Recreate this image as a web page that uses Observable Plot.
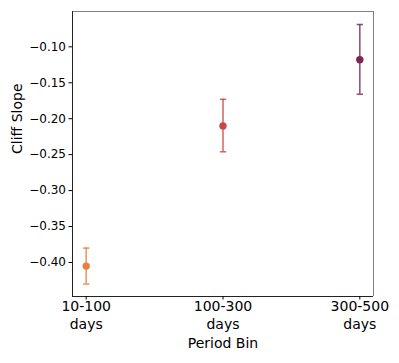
<!DOCTYPE html>
<html>
<head>
<meta charset="utf-8">
<script src="https://cdn.jsdelivr.net/npm/d3@7"></script>
<script src="https://cdn.jsdelivr.net/npm/@observablehq/plot@0.6"></script>
<style>
  html, body { margin: 0; padding: 0; background: #fff; }
  svg { display: block; }
  #chart svg, #chart svg text { font-family: "DejaVu Sans", sans-serif !important; }
</style>
</head>
<body>
<div id="chart"></div>
<script>
const bins = ["10-100", "100-300", "300-500"];
const binUnit = ["days", "days", "days"];
const slope = [-0.405, -0.210, -0.118];
const errLow = [-0.430, -0.246, -0.166];
const errHigh = [-0.380, -0.173, -0.069];
const colors = ["#e6823c", "#c84848", "#7c2752"];
const yTicks = [-0.40, -0.35, -0.30, -0.25, -0.20, -0.15, -0.10];
const yDomain = [-0.4473, -0.0509];
const xDomain = [-0.1, 2.1];

const rows = bins.map((b, i) => ({i, bin: b, unit: binUnit[i], slope: slope[i], lo: errLow[i], hi: errHigh[i], color: colors[i]}));
const caps = rows.flatMap(r => [{i: r.i, y: r.lo, color: r.color}, {i: r.i, y: r.hi, color: r.color}]);

const capSymbol = {draw(ctx) { const r = 3.2; ctx.moveTo(-r, 0); ctx.lineTo(r, 0); }};
const fmt = d => d.toFixed(2).replace("-", "\u2212");

const chart = Plot.plot({
  width: 399,
  height: 363,
  marginLeft: 72,
  marginRight: 26,
  marginTop: 11,
  marginBottom: 67,
  style: {fontFamily: "DejaVu Sans", color: "#000", background: "#fff"},
  x: {domain: xDomain, axis: null},
  y: {domain: yDomain, axis: null},
  marks: [
    Plot.ruleX([xDomain[1]], {stroke: "#808080", strokeWidth: 1}),
    Plot.ruleY([yDomain[1]], {stroke: "#808080", strokeWidth: 1}),
    Plot.ruleX([xDomain[0]], {stroke: "#222", strokeWidth: 1}),
    Plot.ruleY([yDomain[0]], {stroke: "#222", strokeWidth: 1}),
    Plot.axisY({ticks: yTicks, tickFormat: fmt, fontSize: 12, tickSize: 3.5, tickPadding: 3, label: null}),
    Plot.axisX({ticks: [0, 1, 2], tickFormat: () => "", tickSize: 3.5, label: null}),
    Plot.text(rows, {x: "i", text: "bin", frameAnchor: "bottom", dy: 10, lineAnchor: "middle", fontSize: 14, fill: "#000"}),
    Plot.text(rows, {x: "i", text: "unit", frameAnchor: "bottom", dy: 28, lineAnchor: "middle", fontSize: 14, fill: "#000"}),
    Plot.text(["Cliff Slope"], {frameAnchor: "left", rotate: -90, dx: -55, fontSize: 14, fill: "#000"}),
    Plot.text(["Period Bin"], {frameAnchor: "bottom", dy: 47, lineAnchor: "middle", fontSize: 14, fill: "#000"}),
    Plot.ruleX(rows, {x: "i", y1: "lo", y2: "hi", stroke: "color", strokeWidth: 1.6, strokeOpacity: 0.8}),
    Plot.dot(caps, {x: "i", y: "y", symbol: capSymbol, stroke: "color", strokeWidth: 1.6, strokeOpacity: 0.8, fill: "none"}),
    Plot.dot(rows, {x: "i", y: "slope", r: 3.7, fill: "color", stroke: "none"})
  ]
});
document.getElementById("chart").appendChild(chart);
</script>
</body>
</html>
